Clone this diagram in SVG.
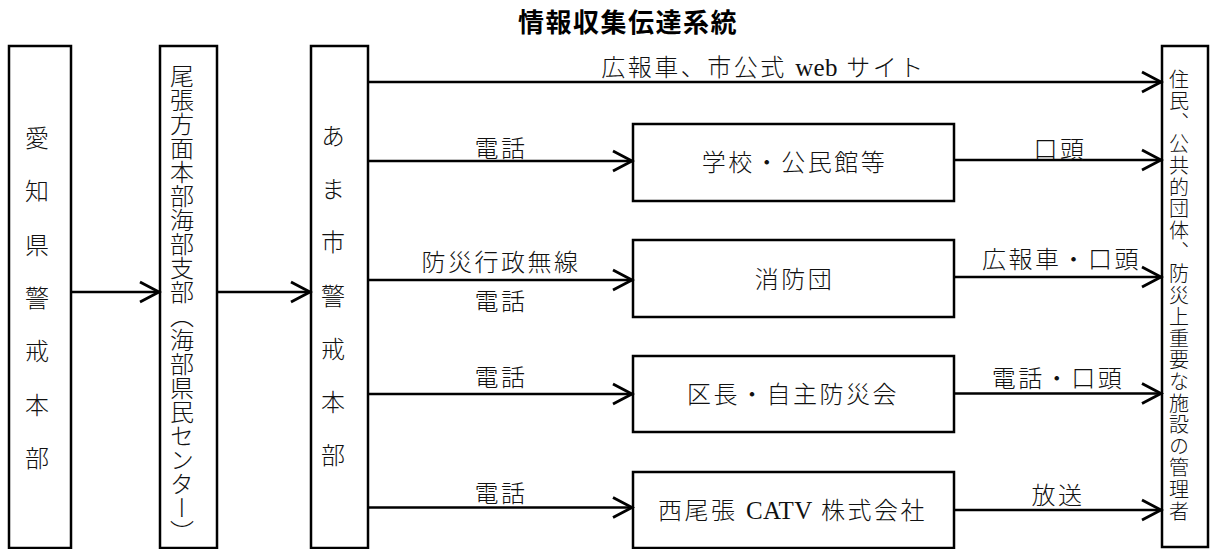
<svg xmlns="http://www.w3.org/2000/svg" width="1216" height="549" viewBox="0 0 1216 549">
<defs>
<style>
.box{fill:#fff;stroke:#000;stroke-width:2.5}
.lbl{font-family:"Liberation Serif","Noto Sans CJK JP",serif;font-size:24px;font-weight:300;letter-spacing:2.5px;fill:#111;text-anchor:middle}
.lat{letter-spacing:0.3px;font-size:25px;font-weight:400}
.vt{font-family:"Noto Sans CJK JP",sans-serif;font-size:24px;font-weight:300;fill:#111;writing-mode:vertical-rl}
.title{font-family:"Noto Sans CJK JP",sans-serif;font-size:26px;font-weight:700;letter-spacing:1.5px;fill:#000;text-anchor:middle}
.conn line{stroke:#000;stroke-width:2.4;fill:none;marker-end:url(#arr)}
</style>
<marker id="arr" markerUnits="userSpaceOnUse" markerWidth="26" markerHeight="26" viewBox="0 0 26 26" refX="22" refY="13" orient="auto">
<path d="M3,3 L22,13 L3,23" fill="none" stroke="#000" stroke-width="2.8" stroke-linejoin="miter"/>
</marker>
</defs>
<rect width="1216" height="549" fill="#fff"/>

<text class="title" x="628" y="31.5">情報収集伝達系統</text>

<g id="node-aichi">
<rect class="box" x="9" y="46" width="62" height="502"/>
<text class="vt" x="37" y="126" style="letter-spacing:29.3px">愛知県警戒本部</text>
</g>
<g id="node-owari">
<rect class="box" x="160" y="46" width="57" height="502"/>
<text class="vt" x="182" y="63.5">尾張方面本部海部支部（海部県民センター）</text>
</g>
<g id="node-ama">
<rect class="box" x="311" y="46" width="57" height="502"/>
<text class="vt" x="333" y="123.5" style="letter-spacing:29.3px">あま市警戒本部</text>
</g>
<g id="node-school">
<rect class="box" x="633" y="124" width="321" height="77"/>
<text class="lbl" x="794.5" y="171">学校・公民館等</text>
</g>
<g id="node-fire">
<rect class="box" x="633" y="240" width="321" height="77"/>
<text class="lbl" x="794.5" y="287.5">消防団</text>
</g>
<g id="node-ward">
<rect class="box" x="633" y="356" width="321" height="76"/>
<text class="lbl" x="793" y="403">区長・自主防災会</text>
</g>
<g id="node-catv">
<rect class="box" x="633" y="472" width="321" height="76"/>
<text class="lbl" x="792.5" y="518.5">西尾張 <tspan class="lat">CATV</tspan> 株式会社</text>
</g>
<g id="node-residents">
<rect class="box" x="1162" y="46" width="46" height="501"/>
<text class="vt" x="1179" y="69" style="font-size:20px;letter-spacing:1.6px">住民、公共的団体、防災上重要な施設の管理者</text>
</g>

<g id="connectors" class="conn">
<line x1="71" y1="292" x2="159" y2="292"/>
<line x1="217" y1="292" x2="310" y2="292"/>
<line x1="368" y1="82" x2="1161" y2="82"/>
<line x1="368" y1="161" x2="632" y2="161"/>
<line x1="954" y1="160" x2="1161" y2="160"/>
<line x1="368" y1="280" x2="632" y2="280"/>
<line x1="954" y1="277" x2="1161" y2="277"/>
<line x1="368" y1="394" x2="632" y2="394"/>
<line x1="954" y1="393.5" x2="1161" y2="393.5"/>
<line x1="368" y1="507.5" x2="632" y2="507.5"/>
<line x1="954" y1="510" x2="1161" y2="510"/>
</g>

<g id="connector-labels">
<text class="lbl" x="763.5" y="76">広報車、市公式 <tspan class="lat">web</tspan> サイト</text>
<text class="lbl" x="501" y="157">電話</text>
<text class="lbl" x="1060" y="157.5">口頭</text>
<text class="lbl" x="501" y="271">防災行政無線</text>
<text class="lbl" x="501" y="310">電話</text>
<text class="lbl" x="1061.5" y="268">広報車・口頭</text>
<text class="lbl" x="501" y="386">電話</text>
<text class="lbl" x="1058" y="387">電話・口頭</text>
<text class="lbl" x="501" y="502">電話</text>
<text class="lbl" x="1058" y="504">放送</text>
</g>
</svg>
